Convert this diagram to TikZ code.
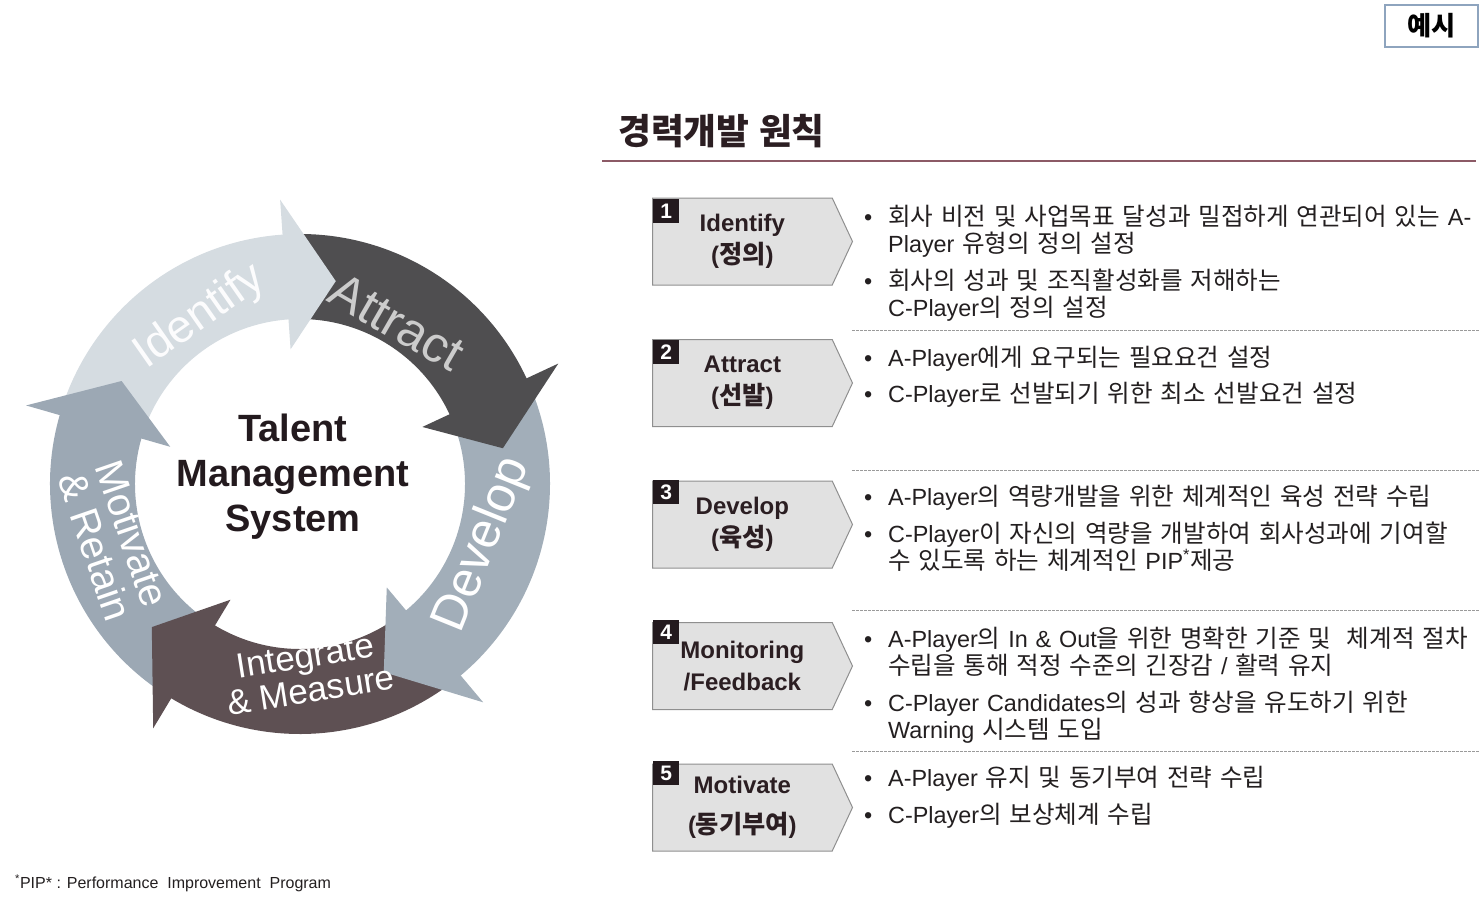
\documentclass[tikz,border=0pt]{standalone}
\usepackage{fontspec}
\setmainfont{Liberation Sans}
\newfontfamily\krfont{Noto Sans CJK KR}[Scale=1.05]
\newfontfamily\latfont{Liberation Sans}
% Hangul syllables switch to the Korean font
\XeTeXinterchartokenstate=1
\newXeTeXintercharclass\hangulclass
\newcount\hgc
\hgc="AC00
\loop\ifnum\hgc<"D7A4
  \XeTeXcharclass\hgc=\hangulclass
  \advance\hgc by 1
\repeat
\XeTeXinterchartoks 0 \hangulclass = {\krfont}
\XeTeXinterchartoks 4095 \hangulclass = {\krfont}
\XeTeXinterchartoks \hangulclass 0 = {\latfont}
\XeTeXinterchartoks \hangulclass 4095 = {\latfont}
\usetikzlibrary{shapes.symbols, positioning}

\definecolor{textdark}{HTML}{2B1E22}
\definecolor{itemtext}{HTML}{231F20}
\definecolor{boxfill}{HTML}{E1E1E1}
\definecolor{boxline}{HTML}{8F8F8F}
\definecolor{numfill}{HTML}{231A1E}
\definecolor{titlerule}{HTML}{8C5A66}
\definecolor{tagline}{HTML}{8EA4BE}
\definecolor{sepgray}{HTML}{9A9A9A}
\definecolor{identify}{HTML}{D5DCE1}
\definecolor{attract}{HTML}{4F4E50}
\definecolor{develop}{HTML}{A2AEB9}
\definecolor{integrate}{HTML}{5E5053}
\definecolor{motivate}{HTML}{9CA8B4}

\begin{document}
\begin{tikzpicture}[x=1pt, y=-1pt, node distance=53.5pt,
    stepbox/.style={signal, signal to=east, signal pointer angle=130,
                    draw=boxline, fill=boxfill, line width=1pt,
                    minimum width=200pt, minimum height=87pt, inner sep=0pt,
                    align=center, text=textdark,
                    font=\fontsize{24}{32}\selectfont\bfseries},
    numbox/.style={fill=numfill, text=white, anchor=north west,
                   minimum width=26pt, minimum height=24pt, inner sep=0pt,
                   font=\fontsize{21}{21}\selectfont\bfseries},
    bul/.style={anchor=base west, align=left, text width=620pt, inner sep=0pt,
                text=itemtext, font=\fontsize{23.4}{27.5}\selectfont},
    sepline/.style={draw=sepgray, dash pattern=on 2.5pt off 1.5pt, line width=0.8pt},
    arclbl/.style={inner sep=0pt, align=center, text=white},
    tagbox/.style={draw=tagline, line width=1.3pt, minimum width=93pt,
                   minimum height=42pt, font=\fontsize{25}{25}\selectfont\bfseries}
]
\useasboundingbox (0,0) rectangle (1484,903);

% cycle
\begin{scope}[shift={(300,484)}, yscale=-1]
  \foreach \a/\b/\c in {164/94/identify, 94/25/attract, 25/-50/develop,
                         -50/-121/integrate, -121/-196/motivate}
    \fill[\c] (\a-1:250) arc[start angle=\a-1, end angle=\b-1, radius=250]
              -- (\b-1:165) arc[start angle=\b-1, end angle=\a-1, radius=165] -- cycle;
  \foreach \b/\t/\c in {94/80/identify, 25/10/attract, -50/-66/develop,
                         -121/-136/integrate, -196/-210/motivate}
    \fill[\c] (\b:285) -- (\t:206) -- (\b:135) -- cycle;
\end{scope}

\node[arclbl, text=white!92!identify, rotate=35, font=\fontsize{46}{46}\selectfont]
  (lidentify) at (200,317) {Identify};
\node[arclbl, text=black!20, rotate=-30, font=\fontsize{50}{50}\selectfont]
  (lattract) at (397,322) {Attract};
\node[arclbl, rotate=68, font=\fontsize{50}{50}\selectfont]
  (ldevelop) at (483,545) {Develop};
\node[arclbl, rotate=9, font=\fontsize{35}{35}\selectfont]
  (lintegrate) at (308,673) {Integrate\\\& Measure};
\node[arclbl, rotate=-71, font=\fontsize{40}{39}\selectfont]
  (lmotivate) at (114,540) {Motivate\\\& Retain};
\node[align=center, text=numfill, font=\fontsize{38}{45}\selectfont\bfseries]
  (tms) at (293,477) {Talent\\Management\\System};

% header
\node[tagbox] (tag) at (1431.5,26) {예시};
\node[anchor=west, inner sep=0pt, text=textdark, font=\fontsize{34}{34}\selectfont\bfseries]
  (title) at (618,131) {경력개발 원칙};
\draw[titlerule, line width=2.5pt] (602,161) -- (1476,161);

% steps
\node[stepbox, anchor=west] (s1) at (652,241.5) {Identify\\(정의)};
\node[stepbox, below=of s1] (s2) {Attract\\(선발)};
\node[stepbox, below=of s2] (s3) {Develop\\(육성)};
\node[stepbox, below=of s3] (s4) {Monitoring\\/Feedback};
\node[stepbox, below=of s4] (s5) {Motivate\\[8pt](동기부여)};

\node[numbox] (n1) at (653,199) {1};
\node[numbox] (n2) at (653,340) {2};
\node[numbox] (n3) at (653,480) {3};
\node[numbox] (n4) at (653,620) {4};
\node[numbox] (n5) at (653,761) {5};

\draw[sepline] (852,330) -- (1480,330);
\draw[sepline] (852,470) -- (1480,470);
\draw[sepline] (852,610) -- (1480,610);
\draw[sepline] (852,751) -- (1480,751);

% bullets
\node[bul] (b11) at (888,225) {\llap{\textbullet\hskip 16pt}회사 비전 및 사업목표 달성과 밀접하게 연관되어 있는 A-\\Player 유형의 정의 설정};
\node[bul] (b12) at (888,289) {\llap{\textbullet\hskip 16pt}회사의 성과 및 조직활성화를 저해하는\\C-Player의 정의 설정};
\node[bul] (b21) at (888,366) {\llap{\textbullet\hskip 16pt}A-Player에게 요구되는 필요요건 설정};
\node[bul] (b22) at (888,402) {\llap{\textbullet\hskip 16pt}C-Player로 선발되기 위한 최소 선발요건 설정};
\node[bul] (b31) at (888,505) {\llap{\textbullet\hskip 16pt}A-Player의 역량개발을 위한 체계적인 육성 전략 수립};
\node[bul] (b32) at (888,542) {\llap{\textbullet\hskip 16pt}C-Player이 자신의 역량을 개발하여 회사성과에 기여할\\수 있도록 하는 체계적인 PIP\textsuperscript{*}제공};
\node[bul] (b41) at (888,647) {\llap{\textbullet\hskip 16pt}A-Player의 In \& Out을 위한 명확한 기준 및 \ 체계적 절차\\수립을 통해 적정 수준의 긴장감 / 활력 유지};
\node[bul] (b42) at (888,711) {\llap{\textbullet\hskip 16pt}C-Player Candidates의 성과 향상을 유도하기 위한\\Warning 시스템 도입};
\node[bul] (b51) at (888,786) {\llap{\textbullet\hskip 16pt}A-Player 유지 및 동기부여 전략 수립};
\node[bul] (b52) at (888,823) {\llap{\textbullet\hskip 16pt}C-Player의 보상체계 수립};

\node[anchor=west, inner sep=0pt, text=itemtext, font=\fontsize{16}{16}\selectfont]
  (foot) at (15,883) {\textsuperscript{*}PIP* : Performance \ Improvement \ Program};
\end{tikzpicture}
\end{document}
